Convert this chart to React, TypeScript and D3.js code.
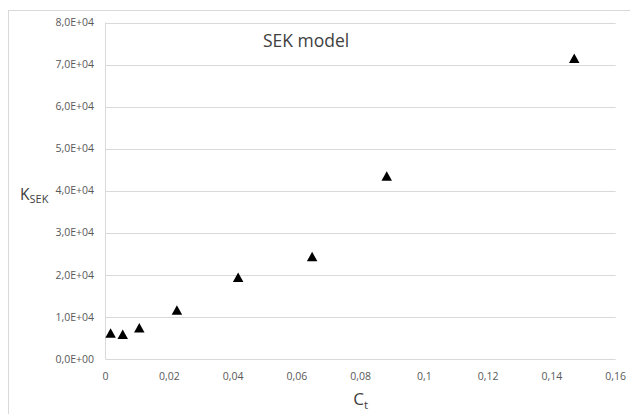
import React from "react";
import * as d3 from "d3";

// Measured concentration (Ct) and fitted SEK constant
const ctValues = [0.0016, 0.0054, 0.0106, 0.0224, 0.0416, 0.0648, 0.0882, 0.147];
const kSekValues = [6200, 5900, 7450, 11650, 19450, 24350, 43500, 71500];

const xTicks = [0, 0.02, 0.04, 0.06, 0.08, 0.1, 0.12, 0.14, 0.16];
const yTicks = [0, 10000, 20000, 30000, 40000, 50000, 60000, 70000, 80000];

const W = 630;
const H = 414;
const plot = { left: 105.5, right: 615.7, top: 22.5, bottom: 359 };

const fmtX = (v: number) => (v === 0 ? "0" : String(+v.toFixed(2)).replace(".", ","));
const fmtY = (v: number) => {
  const s = v.toExponential(1); // e.g. "8.0e+4"
  const [m, e] = s.split("e");
  const sign = e[0] === "-" ? "-" : "+";
  const exp = Math.abs(parseInt(e, 10)).toString().padStart(2, "0");
  return `${m.replace(".", ",")}E${sign}${exp}`;
};

const FONT = "'Open Sans', 'Noto Sans', sans-serif";

export default function App() {
  const x = d3.scaleLinear().domain([0, 0.16]).range([plot.left, plot.right]);
  const y = d3.scaleLinear().domain([0, 80000]).range([plot.bottom, plot.top]);

  const tri = (cx: number, cy: number) => {
    const w = 10.5;
    const h = 9.5;
    const p = d3.path();
    p.moveTo(cx, cy - h / 2);
    p.lineTo(cx + w / 2, cy + h / 2);
    p.lineTo(cx - w / 2, cy + h / 2);
    p.closePath();
    return p.toString();
  };

  return (
    <svg
      width={W}
      height={H}
      style={{ position: "absolute", left: 0, top: 0, background: "#fff" }}
      fontFamily={FONT}
    >
      <rect x={8.5} y={10.5} width={W + 20} height={H + 20} fill="#fff" stroke="#d9d9d9" strokeWidth={1} />

      {/* horizontal gridlines */}
      {yTicks.map((t) => (
        <line
          key={"g" + t}
          x1={plot.left}
          x2={plot.right}
          y1={Math.round(y(t)) + 0.5}
          y2={Math.round(y(t)) + 0.5}
          stroke="#d9d9d9"
          strokeWidth={1}
        />
      ))}
      {/* vertical axis line */}
      <line x1={plot.left} x2={plot.left} y1={plot.top} y2={plot.bottom} stroke="#d9d9d9" strokeWidth={1} />

      {/* y tick labels */}
      {yTicks.map((t) => (
        <text
          key={"yl" + t}
          x={94}
          y={y(t)}
          dy="0.35em"
          textAnchor="end"
          fontSize={10.5}
          fill="#595959"
        >
          {fmtY(t)}
        </text>
      ))}

      {/* x tick labels */}
      {xTicks.map((t) => (
        <text
          key={"xl" + t}
          x={x(t)}
          y={376}
          dy="0.35em"
          textAnchor="middle"
          fontSize={10.5}
          fill="#595959"
        >
          {fmtX(t)}
        </text>
      ))}

      {/* data markers */}
      {ctValues.map((c, i) => (
        <path key={"p" + i} d={tri(x(c), y(kSekValues[i]))} fill="#000" />
      ))}

      {/* title */}
      <text x={263} y={47} fontSize={17.5} fill="#404040">
        SEK model
      </text>

      {/* axis titles */}
      <text x={(plot.left + plot.right) / 2} y={405} textAnchor="middle" fontSize={17} fill="#404040">
        C
        <tspan fontSize={11.5} dy={4}>
          t
        </tspan>
      </text>
      <text x={20} y={199.5} fontSize={15.5} fill="#404040">
        K
        <tspan fontSize={11} dy={3}>
          SEK
        </tspan>
      </text>
    </svg>
  );
}
